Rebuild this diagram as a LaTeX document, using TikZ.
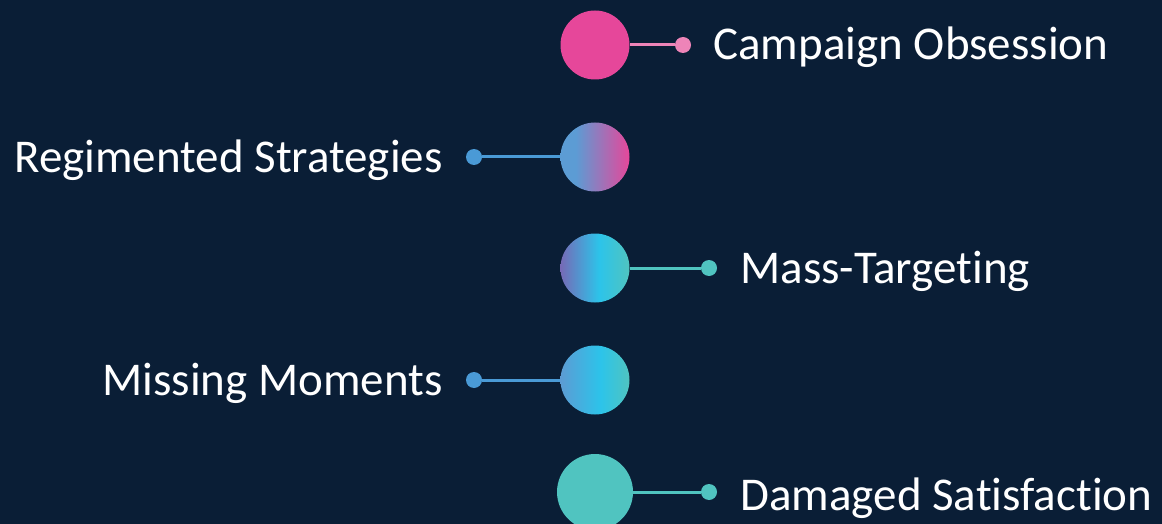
\documentclass[tikz,border=0pt]{standalone}
\usepackage{fontspec}
\setmainfont{Carlito}[RawFeature=-liga, RawFeature=-calt, RawFeature=-clig]
\usetikzlibrary{positioning}
\definecolor{bgnavy}{RGB}{10,30,54}
\definecolor{hotpink}{RGB}{230,71,154}
\definecolor{softpink}{RGB}{238,132,184}
\definecolor{skyblue}{RGB}{74,154,214}
\definecolor{paleblue}{RGB}{92,156,212}
\definecolor{tealgreen}{RGB}{80,196,192}
\definecolor{duskviolet}{RGB}{118,106,182}
\definecolor{brightcyan}{RGB}{44,196,234}

% horizontal blends for the bubbles (25bp..75bp spans the circle)
\pgfdeclarehorizontalshading{bluepink}{100bp}{color(0bp)=(paleblue); color(25bp)=(paleblue);
  color(36bp)=(paleblue); color(75bp)=(hotpink); color(100bp)=(hotpink)}
\pgfdeclarehorizontalshading{violetteal}{100bp}{color(0bp)=(duskviolet); color(25bp)=(duskviolet);
  color(53bp)=(brightcyan); color(75bp)=(tealgreen); color(100bp)=(tealgreen)}
\pgfdeclarehorizontalshading{blueteal}{100bp}{color(0bp)=(paleblue); color(25bp)=(paleblue);
  color(54bp)=(brightcyan); color(75bp)=(tealgreen); color(100bp)=(tealgreen)}

\tikzset{
  bubble/.style={circle, minimum size=69pt, inner sep=0pt},
  pin/.style={circle, minimum size=16pt, inner sep=0pt},
  link/.style={line width=3pt},
  caption/.style={text=white, inner sep=0pt, text height=30pt, text depth=0pt,
    font=\fontsize{47}{56}\selectfont}
}

\begin{document}
\begin{tikzpicture}
  \fill[bgnavy] (0pt,0pt) rectangle (1162pt,-524pt);
  \useasboundingbox (0pt,0pt) rectangle (1162pt,-524pt);

  % campaign
  \node[bubble, fill=hotpink] (camp) at (595pt,-45pt) {};
  \node[pin, fill=softpink] (campdot) at (683pt,-45pt) {};
  \draw[link, softpink] (camp) -- (campdot);
  \node[caption, right=22pt of campdot] (camptxt) {Campaign Obsession};

  % regimented
  \node[bubble, shading=bluepink] (regi) at (595pt,-157pt) {};
  \node[pin, fill=skyblue] (regidot) at (474pt,-157pt) {};
  \draw[link, skyblue] (regi) -- (regidot);
  \node[caption, left=23pt of regidot] (regitxt) {Regimented Strategies};

  % mass
  \node[bubble, shading=violetteal] (mass) at (595pt,-268pt) {};
  \node[pin, fill=tealgreen] (massdot) at (709pt,-268pt) {};
  \draw[link, tealgreen] (mass) -- (massdot);
  \node[caption, right=23pt of massdot] (masstxt) {Mass-Targeting};

  % missing
  \node[bubble, shading=blueteal] (miss) at (595pt,-380pt) {};
  \node[pin, fill=skyblue] (missdot) at (474pt,-380pt) {};
  \draw[link, skyblue] (miss) -- (missdot);
  \node[caption, left=23pt of missdot] (misstxt) {Missing Moments};

  % damaged
  \node[bubble, minimum size=76pt, fill=tealgreen] (dama) at (595pt,-492pt) {};
  \node[pin, fill=tealgreen] (damadot) at (709pt,-492pt) {};
  \draw[link, tealgreen] (dama) -- (damadot);
  \node[caption, right=23pt of damadot, yshift=-3pt] (damatxt) {Damaged Satisfaction};
\end{tikzpicture}
\end{document}
